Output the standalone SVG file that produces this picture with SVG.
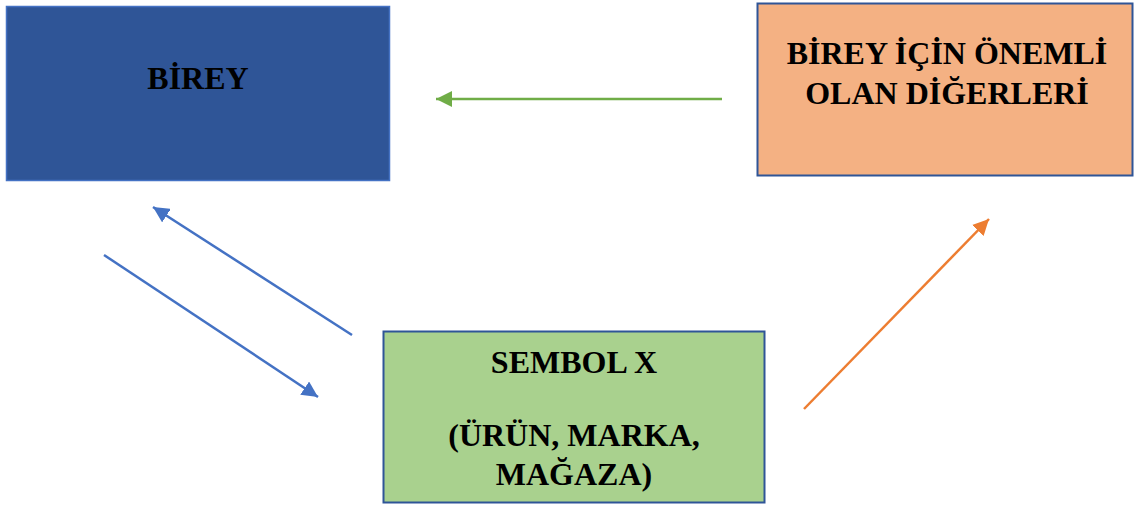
<svg xmlns="http://www.w3.org/2000/svg" width="1134" height="507" viewBox="0 0 1134 507">
<style>
.t{font-family:"Liberation Serif","Times New Roman",serif;font-weight:bold;font-size:32px;fill:#000;text-anchor:middle}
.c{fill:none;stroke-width:2.5}
</style>
<defs>
<marker id="mg" markerUnits="userSpaceOnUse" markerWidth="18" markerHeight="16" refX="16" refY="8" orient="auto"><path d="M0,0 L16,8 L0,16 Z" fill="#70AD47"/></marker>
<marker id="mb" markerUnits="userSpaceOnUse" markerWidth="18" markerHeight="16" refX="16" refY="8" orient="auto"><path d="M0,0 L16,8 L0,16 Z" fill="#4472C4"/></marker>
<marker id="mo" markerUnits="userSpaceOnUse" markerWidth="18" markerHeight="16" refX="16" refY="8" orient="auto"><path d="M0,0 L16,8 L0,16 Z" fill="#ED7D31"/></marker>
</defs>
<rect width="1134" height="507" fill="#fff"/>
<g id="birey">
<rect x="6.5" y="6.5" width="383" height="174" fill="#2F5597" stroke="#4472C4" stroke-width="1.5"/>
<text class="t" x="198" y="89">BİREY</text>
</g>
<g id="digerleri">
<rect x="757.5" y="3.5" width="375" height="172" fill="#F4B183" stroke="#2F5597" stroke-width="2"/>
<text class="t" x="947" y="64">BİREY İÇİN ÖNEMLİ</text>
<text class="t" x="947" y="104">OLAN DİĞERLERİ</text>
</g>
<g id="sembol">
<rect x="383.5" y="331.5" width="381" height="171" fill="#A9D18E" stroke="#2F5597" stroke-width="2"/>
<text class="t" x="574" y="373">SEMBOL X</text>
<text class="t" x="574" y="446">(ÜRÜN, MARKA,</text>
<text class="t" x="574" y="485">MAĞAZA)</text>
</g>
<g id="connectors">
<line class="c" x1="722" y1="99" x2="436" y2="99" stroke="#70AD47" marker-end="url(#mg)"/>
<line class="c" x1="352" y1="335" x2="153" y2="207" stroke="#4472C4" marker-end="url(#mb)"/>
<line class="c" x1="104" y1="255" x2="318" y2="397" stroke="#4472C4" marker-end="url(#mb)"/>
<line class="c" x1="804" y1="409" x2="989" y2="219" stroke="#ED7D31" marker-end="url(#mo)"/>
</g>
</svg>
